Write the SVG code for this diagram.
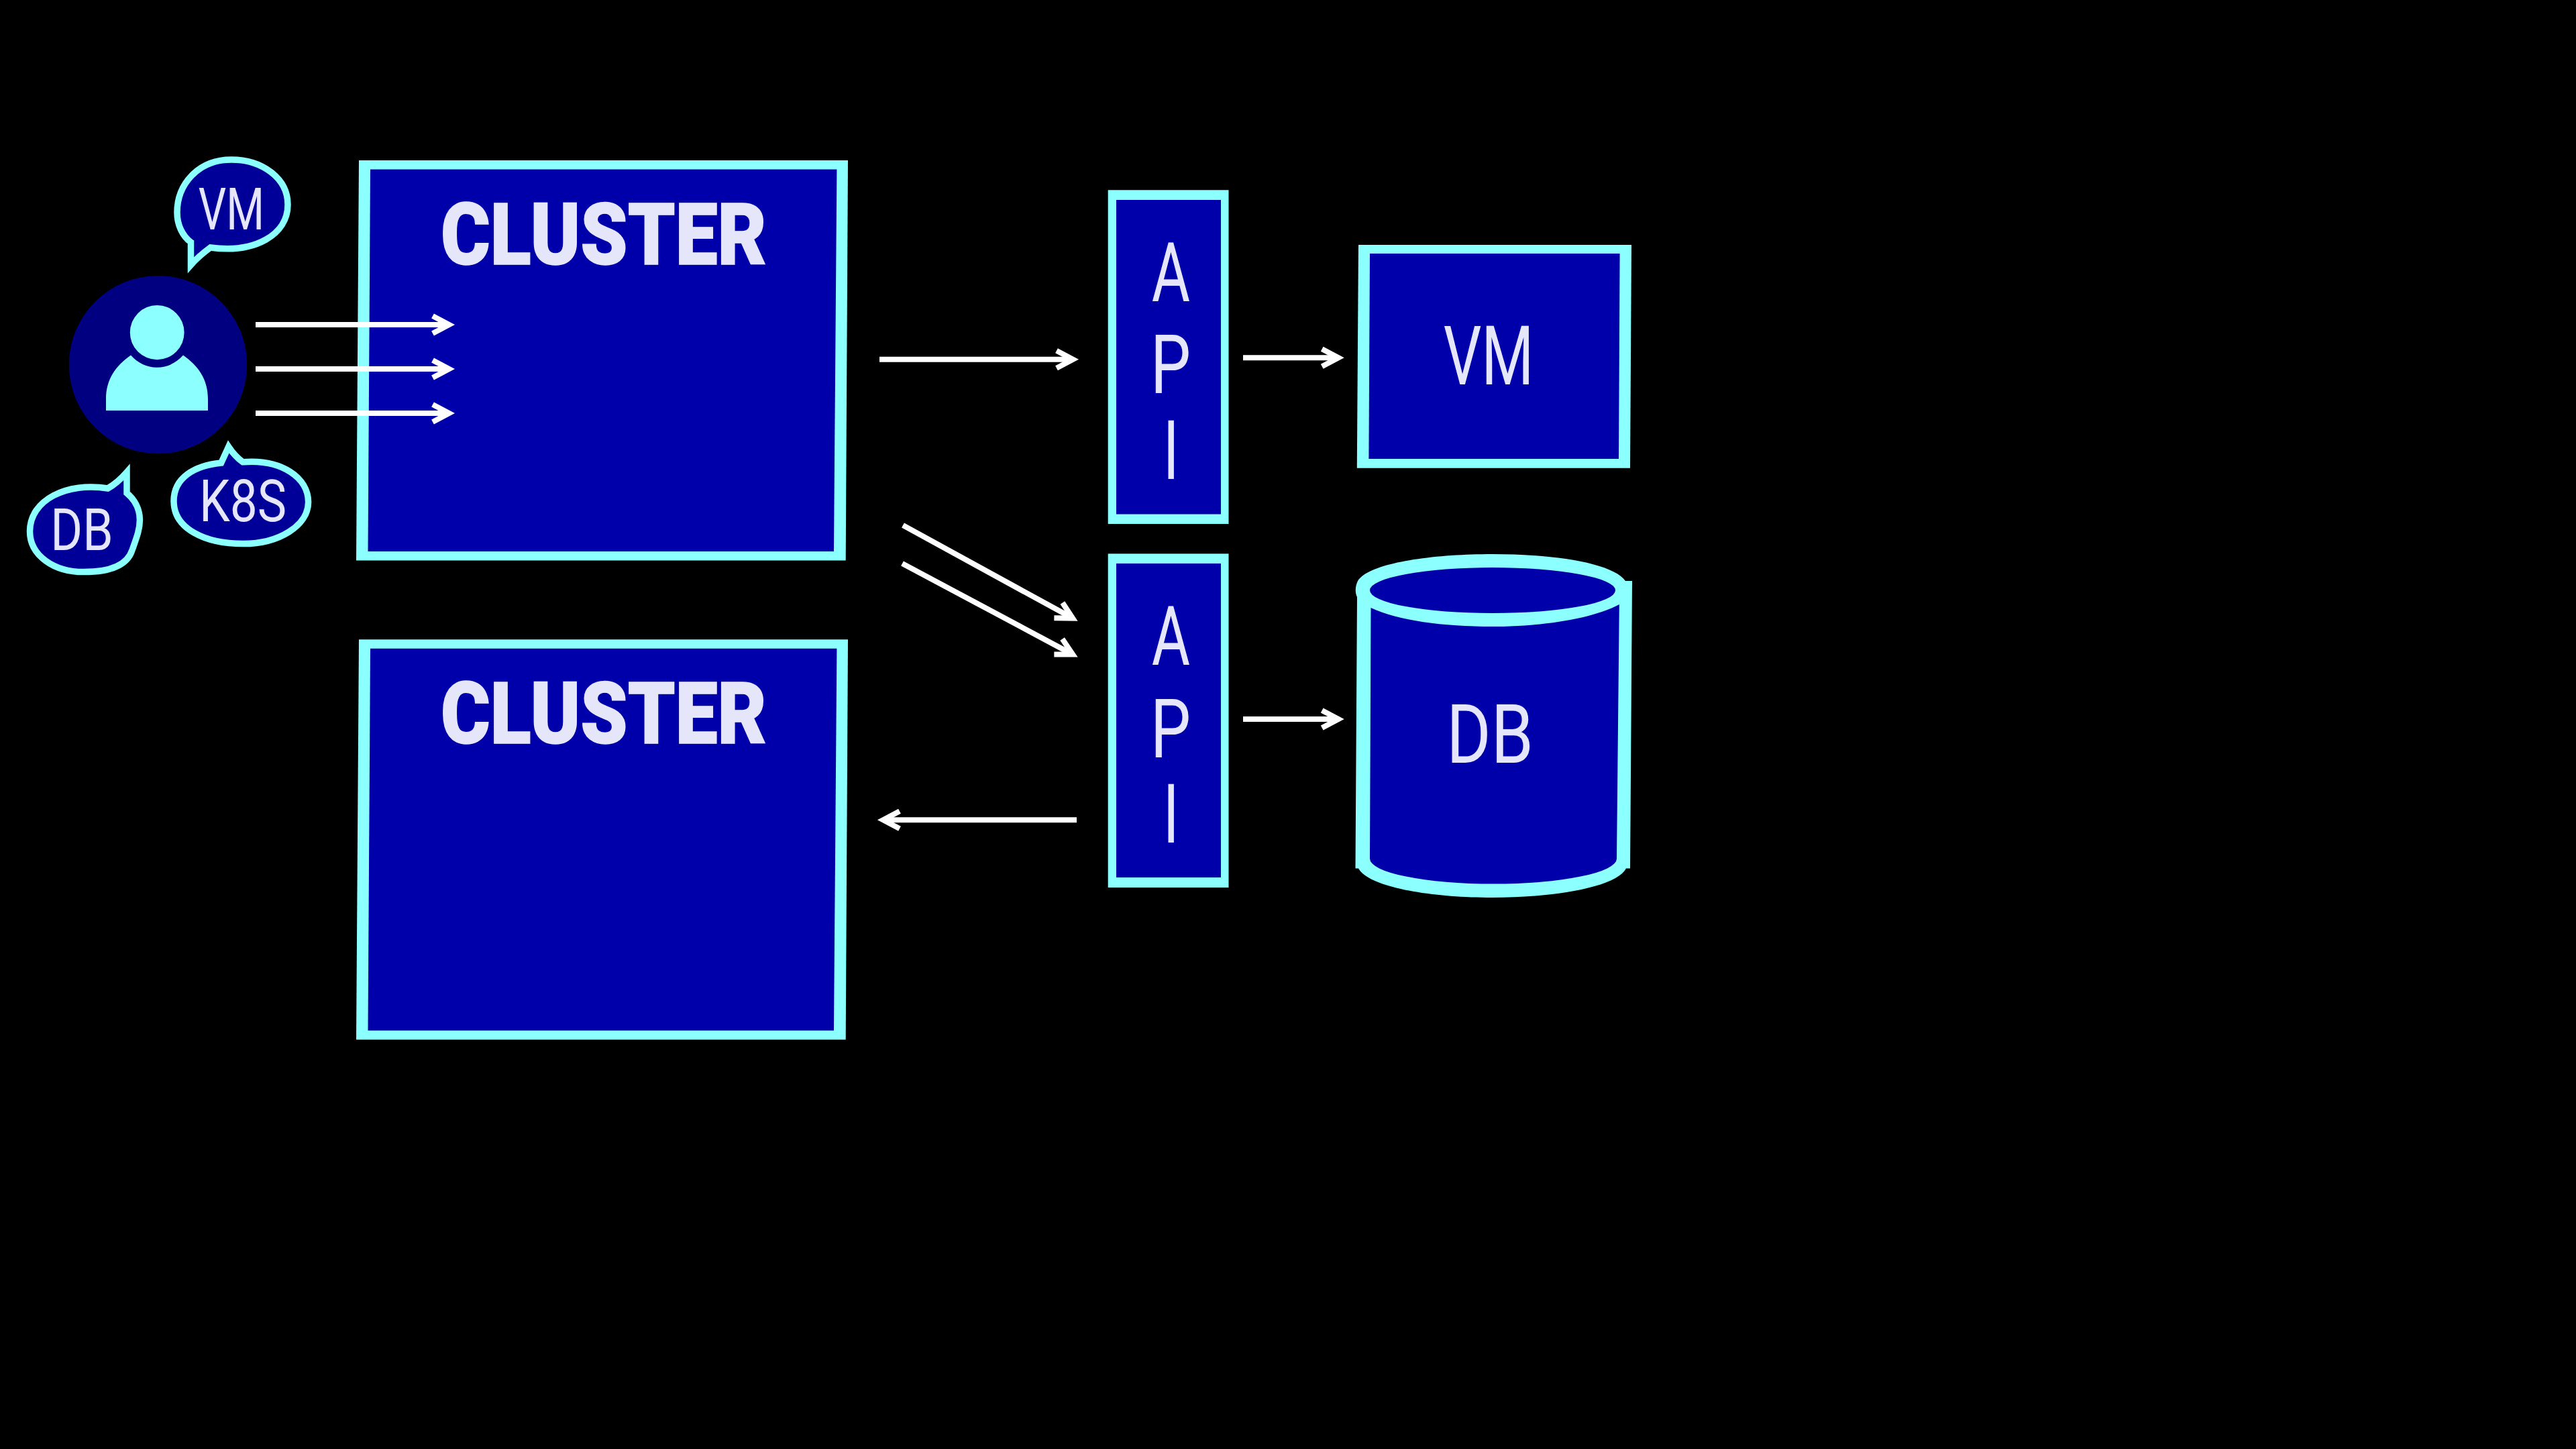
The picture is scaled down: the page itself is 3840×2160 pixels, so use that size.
<svg xmlns="http://www.w3.org/2000/svg" width="3840" height="2160" viewBox="0 0 3840 2160">
<style>
.edge{fill:#8cffff}
.fill{fill:#0000aa}
.bubble{fill:#000099;stroke:#8cffff;stroke-width:9.5;stroke-miterlimit:10}
.title{font-family:Roboto,"Liberation Sans",sans-serif;font-weight:900;font-size:128px;fill:#e6e6fa;stroke:#e6e6fa;stroke-width:1.5}
.big{font-family:Roboto,"Liberation Sans",sans-serif;font-weight:400;font-size:122px;fill:#e6e6fa;text-anchor:middle}
.small{font-family:Roboto,"Liberation Sans",sans-serif;font-weight:400;font-size:88px;fill:#e6e6fa;text-anchor:middle}
.conn{stroke:#fff;stroke-width:8;fill:none;marker-end:url(#arrow)}
</style>
<defs>
<marker id="arrow" markerUnits="userSpaceOnUse" orient="auto" overflow="visible" markerWidth="50" markerHeight="40" viewBox="-30 -20 50 40" refX="0" refY="0">
<path d="M-24.5,-13 L0,0 L-24.5,13" fill="none" stroke="#fff" stroke-width="8" stroke-miterlimit="10"/>
</marker>
</defs>
<rect width="3840" height="2160" fill="#000"/>
<g id="cluster-1">
<polygon class="edge" points="535,239 1264,239 1260.7,835.5 531,835.5"/>
<polygon class="fill" points="552,252.6 1247.4,252.6 1243,822 548.5,822"/>
<text class="title" x="657" y="393.5" textLength="486" lengthAdjust="spacingAndGlyphs">CLUSTER</text>
</g>
<g id="cluster-2">
<polygon class="edge" points="535,953.3 1264,953.3 1260.7,1549.7 531,1549.7"/>
<polygon class="fill" points="552,966.8 1247.4,966.8 1243,1536.2 548.5,1536.2"/>
<text class="title" x="657" y="1107.7" textLength="486" lengthAdjust="spacingAndGlyphs">CLUSTER</text>
</g>
<g id="api-1">
<rect class="edge" x="1651.7" y="283.3" width="179.8" height="497.7"/>
<rect class="fill" x="1664" y="298" width="156" height="468.5"/>
<text class="big" transform="translate(1745.5,448.7) scale(.72,1)">A</text>
<text class="big" transform="translate(1745,586) scale(.78,1)">P</text>
<text class="big" transform="translate(1745.6,714) scale(.72,1)">I</text>
</g>
<g id="api-2">
<rect class="edge" x="1651.7" y="825.4" width="179.8" height="497.6"/>
<rect class="fill" x="1664" y="840" width="156" height="468"/>
<text class="big" transform="translate(1745.5,990.8) scale(.72,1)">A</text>
<text class="big" transform="translate(1745,1128.5) scale(.78,1)">P</text>
<text class="big" transform="translate(1745.6,1256.4) scale(.72,1)">I</text>
</g>
<g id="vm">
<polygon class="edge" points="2025,365 2432,365 2430,697.7 2022.8,697.7"/>
<polygon class="fill" points="2042,378 2414.6,378 2413,684 2040.4,684"/>
<text class="big" transform="translate(2219,572.7) scale(.73,1)">VM</text>
</g>
<g id="db">
<path class="edge" d="M2023,890 C2019,882 2021,872 2024,866 C2040,840 2130,826 2225,826 C2320,826 2405,840 2423,866 L2433,866 L2430,1294.6 L2424,1294.6 C2410,1322 2320,1338 2225,1338 C2130,1338 2040,1322 2025,1294.6 L2020.5,1294.6 Z"/>
<path class="fill" d="M2043.5,906 C2085,925 2150,934 2225,934 C2300,934 2375,922 2413.8,901 L2410,1280 A184 37.6 0 0 1 2042,1280 Z"/>
<ellipse class="fill" cx="2225" cy="880" rx="183" ry="34"/>
<text class="big" transform="translate(2221,1136.6) scale(.83,1)">DB</text>
</g>
<g id="user">
<circle cx="235.5" cy="543.6" r="132.7" fill="#000080"/>
<ellipse class="edge" cx="234.2" cy="495.6" rx="40.4" ry="40.6"/>
<path class="edge" d="M158,612 L158,595 C158,565 173,545 195,529.6 C205,541 219,547.8 234,547.8 C249,547.8 263,541 273,529.6 C295,545 310,565 310,595 L310,612 Z"/>
</g>
<g id="bubble-vm">
<path class="bubble" d="M284.5,361 L284.5,395 Q296,382 313.6,369 C380,378 429,350 429,305 C429,265 390,238 345,238 C295,238 264,275 264,317 C264,335 272,352 284.5,361 Z"/>
<text class="small" transform="translate(345,342) scale(.74,1)">VM</text>
</g>
<g id="bubble-k8s">
<path class="bubble" d="M329.7,690 L340.7,666 Q350,680 361.8,688.7 C420,684 459.6,712 459.6,748.6 C459.6,784 415,810.6 362.7,810.6 C305,810.6 259,788 259,747 C259,712 290,694 329.7,690 Z"/>
<text class="small" transform="translate(362,776.5) scale(.83,1)">K8S</text>
</g>
<g id="bubble-db">
<path class="bubble" d="M189,735 L189,704 Q175,720 160.7,728 C100,718 44.5,745 44.5,792 C44.5,828 80,852.6 125,852.6 C165,852.6 190,842 197,820 C203,803 208.4,790 208.4,775 C208.4,758 200,744 189,735 Z"/>
<text class="small" transform="translate(122,820) scale(.83,1)">DB</text>
</g>
<g id="connectors">
<line class="conn" x1="381" y1="484" x2="669.5" y2="484"/>
<line class="conn" x1="381" y1="550" x2="669.5" y2="550"/>
<line class="conn" x1="381" y1="616" x2="669.5" y2="616"/>
<line class="conn" x1="1311" y1="535.7" x2="1599.5" y2="535.7"/>
<line class="conn" x1="1853" y1="533.3" x2="1995.2" y2="533.3"/>
<line class="conn" x1="1853" y1="1072" x2="1995.2" y2="1072"/>
<line class="conn" x1="1605" y1="1222.3" x2="1316.5" y2="1222.3"/>
<line class="conn" x1="1346" y1="783" x2="1599.1" y2="921.6"/>
<line class="conn" x1="1345" y1="840" x2="1599.1" y2="975.6"/>
</g>
</svg>
